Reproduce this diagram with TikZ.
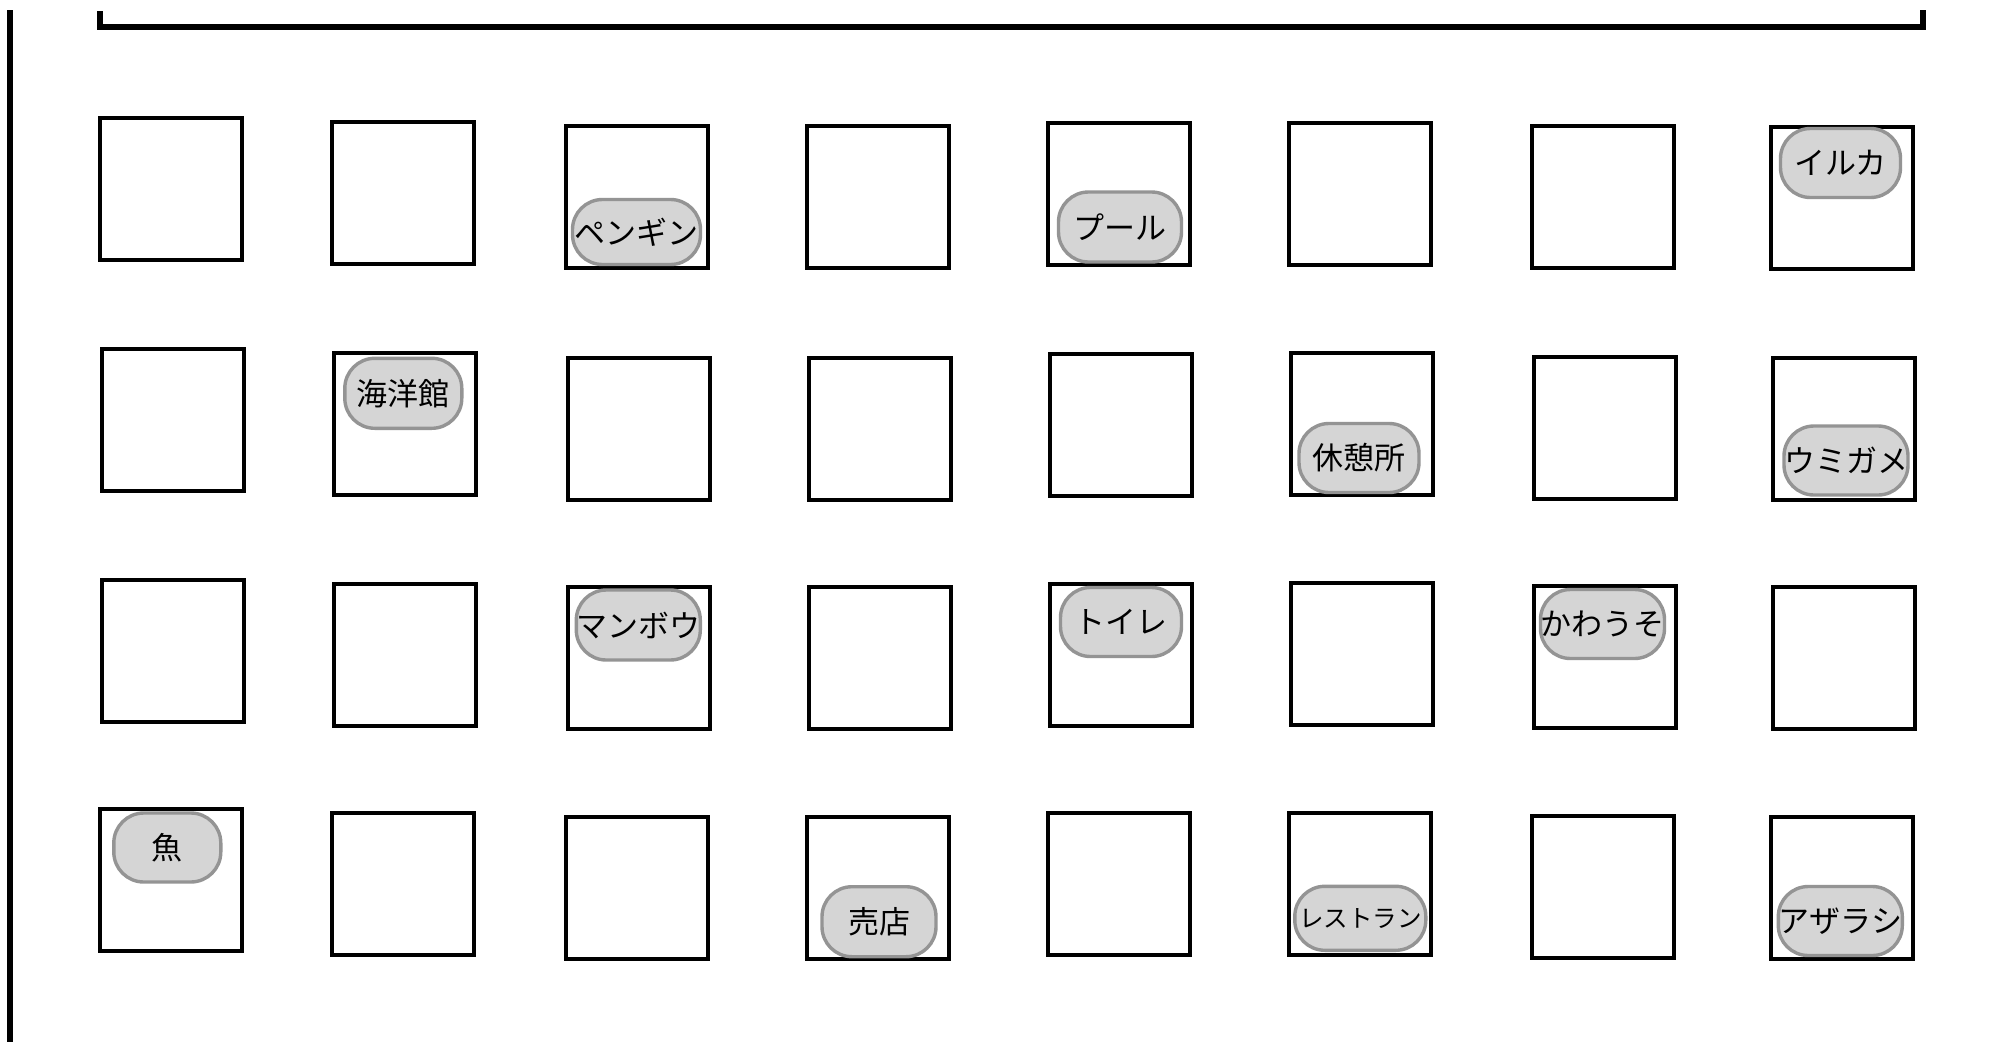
\documentclass[tikz,border=0pt]{standalone}
\usepackage{fontspec}
\setmainfont{Noto Sans CJK JP}
\definecolor{pillfill}{RGB}{213,213,213}
\definecolor{pillline}{RGB}{148,148,148}
\tikzset{
  wall/.style={line width=6pt, line join=miter},
  boxcell/.style={draw=black, line width=3.8pt, minimum width=142.2pt, minimum height=142.2pt, inner sep=0pt, fill=white},
  pill/.style={draw=pillline, fill=pillfill, line width=3.4pt, rounded corners=30pt, inner sep=0pt,
    font=\fontsize{31}{36}\selectfont, text=black},
  smallpill/.style={pill, font=\fontsize{24.5}{30}\selectfont}
}
\begin{document}
\begin{tikzpicture}[x=1pt,y=-1pt]
\useasboundingbox (0,0) rectangle (1998,1042);
% walls
\coordinate (wl1) at (99.5,11);
\coordinate (wl2) at (99.5,27);
\coordinate (wr2) at (1923,27);
\coordinate (wr1) at (1923,10);
\draw[wall] (wl1) -- (wl2) -- (wr2) -- (wr1);
\coordinate (vl1) at (10,10);
\coordinate (vl2) at (10,1042);
\draw[line width=5.6pt] (vl1) -- (vl2);
% row 0
\node[boxcell] (b00) at (171,189) {};
\node[boxcell] (b01) at (403,193) {};
\node[boxcell] (b02) at (637,197) {};
\node[boxcell] (b03) at (878,197) {};
\node[boxcell] (b04) at (1119,194) {};
\node[boxcell] (b05) at (1360,194) {};
\node[boxcell] (b06) at (1603,197) {};
\node[boxcell] (b07) at (1842,198) {};
% row 1
\node[boxcell] (b10) at (173,420) {};
\node[boxcell] (b11) at (405,424) {};
\node[boxcell] (b12) at (639,429) {};
\node[boxcell] (b13) at (880,429) {};
\node[boxcell] (b14) at (1121,425) {};
\node[boxcell] (b15) at (1362,424) {};
\node[boxcell] (b16) at (1605,428) {};
\node[boxcell] (b17) at (1844,429) {};
% row 2
\node[boxcell] (b20) at (173,651) {};
\node[boxcell] (b21) at (405,655) {};
\node[boxcell] (b22) at (639,658) {};
\node[boxcell] (b23) at (880,658) {};
\node[boxcell] (b24) at (1121,655) {};
\node[boxcell] (b25) at (1362,654) {};
\node[boxcell] (b26) at (1605,657) {};
\node[boxcell] (b27) at (1844,658) {};
% row 3
\node[boxcell] (b30) at (171,880) {};
\node[boxcell] (b31) at (403,884) {};
\node[boxcell] (b32) at (637,888) {};
\node[boxcell] (b33) at (878,888) {};
\node[boxcell] (b34) at (1119,884) {};
\node[boxcell] (b35) at (1360,884) {};
\node[boxcell] (b36) at (1603,887) {};
\node[boxcell] (b37) at (1842,888) {};
% labels
\node[pill, minimum width=128pt, minimum height=65pt] (penguin) at (636.5,232) {ペンギン};
\node[pill, minimum width=123pt, minimum height=70pt] (pool) at (1120,227) {プール};
\node[pill, minimum width=120pt, minimum height=69pt] (iruka) at (1840.5,163) {イルカ};
\node[pill, minimum width=117pt, minimum height=70pt] (kaiyo) at (403.3,393.3) {海洋館};
\node[pill, minimum width=120pt, minimum height=69pt] (kyukei) at (1359,458) {休憩所};
\node[pill, minimum width=123pt, minimum height=69pt] (umigame) at (1846,460.5) {ウミガメ};
\node[pill, minimum width=124pt, minimum height=70pt] (manbou) at (638.3,625) {マンボウ};
\node[pill, minimum width=121pt, minimum height=69pt] (toire) at (1121,622) {トイレ};
\node[pill, minimum width=122pt, minimum height=69pt] (kawauso) at (1602.5,624) {かわうそ};
\node[pill, minimum width=107pt, minimum height=69pt] (sakana) at (167.3,847.5) {魚};
\node[pill, minimum width=114pt, minimum height=70pt] (baiten) at (879,921.7) {売店};
\node[smallpill, minimum width=131pt, minimum height=64pt] (resutoran) at (1360.3,918.3) {レストラン};
\node[pill, minimum width=124pt, minimum height=69pt] (azarashi) at (1840.3,921) {アザラシ};
\end{tikzpicture}
\end{document}
